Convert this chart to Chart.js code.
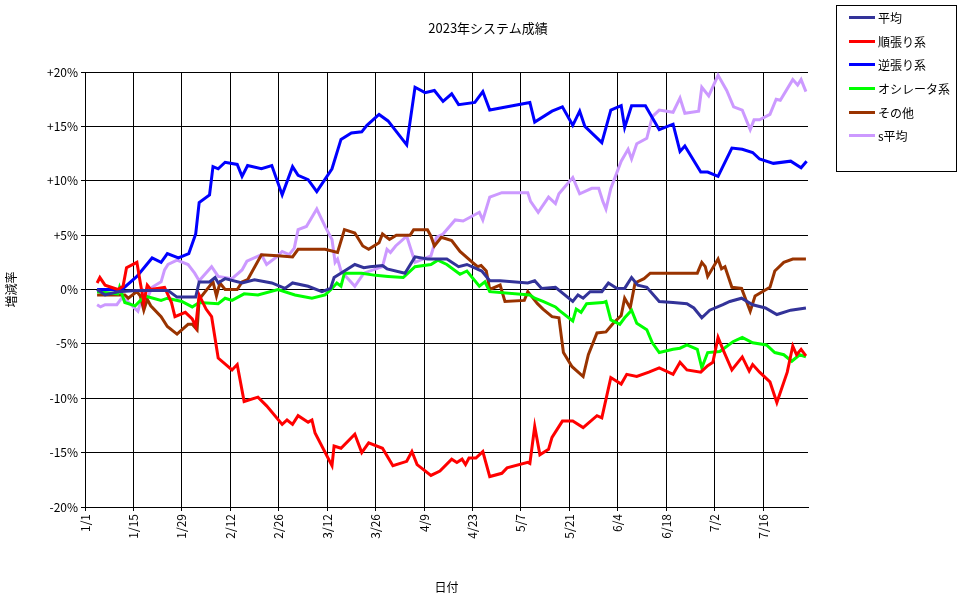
<!DOCTYPE html>
<html><head><meta charset="utf-8">
<script src="https://cdn.jsdelivr.net/npm/chart.js@4/dist/chart.umd.min.js"></script>
<style>
body{margin:0;background:#fff;font-family:"Noto Sans CJK JP",sans-serif;}
#wrap{position:relative;width:976px;height:599px;}
#title{position:absolute;left:0;width:976px;top:18px;text-align:center;font-size:13px;}
#legend{position:absolute;left:836px;top:5px;width:121px;height:167px;border:1px solid #000;box-sizing:border-box;font-size:12px;}
#legend div{height:23.6px;display:flex;align-items:center;margin-left:12px;}
#legend span.l{display:inline-block;width:26px;height:3px;margin-right:3px;}
</style></head><body>
<div id="wrap"><canvas id="c" width="976" height="599"></canvas>
<div id="title">2023年システム成績</div>
<div id="legend"></div></div>
<script>
// day index (0 = 1/1) and value in %
const heikin = [[3.5,0],[5.8,-0.5],[9.5,-0.2],[15,-0.1],[24,-0.1],[26.6,-0.7],[32,-0.7],[33,0.7],[36,0.7],[37.6,1.1],[38.5,0.6],[40.5,1.0],[45.4,0.6],[49,0.9],[54,0.6],[57.8,0.1],[60,0.6],[64.5,0.3],[68.5,-0.2],[71,0.1],[72,1.1],[75,1.7],[78,2.3],[80.6,2.0],[82.4,2.1],[86,2.2],[87.3,1.9],[92.5,1.5],[95.4,3.0],[99,2.8],[104.6,2.8],[108,2.1],[110.4,2.3],[114.7,1.7],[117,0.8],[120,0.8],[128,0.6],[130,0.8],[132,0.1],[136,0.2],[141,-1.1],[142.5,-0.5],[144,-0.8],[146,-0.2],[149.4,-0.2],[151.3,0.6],[153.8,0.1],[156,0.1],[158,1.1],[159.8,0.4],[162.4,0.2],[166,-1.1],[170,-1.2],[174,-1.3],[176,-1.7],[178.3,-2.6],[180.6,-1.9],[184.4,-1.4],[186.4,-1.1],[189.8,-0.8],[193,-1.4],[196.7,-1.7],[200,-2.3],[204,-1.9],[208.4,-1.7]];
const junbari = [[3.5,0.6],[4.3,1.1],[5.8,0.4],[9.5,0],[11,0.3],[12,2.0],[15,2.5],[16,0.6],[17,-1.2],[18,0.4],[19,0],[23,0.2],[25,-1.2],[26,-2.5],[29,-2.1],[31,-2.7],[32,-3.4],[33,-0.5],[35,-1.8],[36.6,-2.5],[38.5,-6.3],[42.5,-7.4],[44,-6.9],[46,-10.3],[50,-9.9],[52.5,-10.7],[57,-12.4],[58.4,-12.0],[60,-12.4],[61.6,-11.6],[64.5,-12.2],[65.6,-12.0],[66.5,-13.2],[71.4,-16.2],[72,-14.4],[74,-14.6],[78,-13.3],[80,-15.0],[82,-14.1],[86,-14.6],[89,-16.2],[93,-15.8],[94.5,-14.9],[96,-16.1],[100,-17.1],[102.6,-16.7],[106,-15.6],[107.5,-15.9],[109,-15.6],[110,-16.1],[111,-15.5],[113,-15.5],[115,-14.9],[117,-17.2],[120.5,-16.9],[122,-16.4],[128,-15.9],[128.6,-16.0],[130,-12.6],[131.5,-15.2],[134,-14.7],[135,-13.6],[138,-12.1],[141,-12.1],[144,-12.7],[148,-11.6],[149.4,-11.8],[152,-8.1],[155,-8.7],[156.6,-7.8],[159.5,-8.0],[163,-7.6],[166,-7.2],[170,-7.8],[172,-6.7],[174,-7.4],[178,-7.6],[180,-7.0],[181.5,-6.7],[183,-4.4],[184.4,-5.5],[187,-7.4],[190,-6.2],[192,-7.5],[193,-6.9],[195,-7.6],[198,-8.5],[200,-10.4],[203,-7.6],[204.6,-5.2],[205.7,-6.0],[207,-5.5],[208.4,-6.1]];
const gyakubari = [[3.5,0],[10.7,0],[15,1.2],[19.4,2.9],[22,2.5],[23.8,3.3],[27,2.9],[30,3.3],[32,5.1],[33,8.0],[36,8.7],[37,11.3],[38.5,11.1],[40.5,11.7],[44,11.5],[45.4,10.4],[47,11.4],[51,11.1],[54,11.4],[57,8.7],[60,11.3],[61.6,10.5],[64.5,10.1],[67,9.0],[71.4,11.1],[74,13.8],[77,14.4],[80,14.5],[81.5,15.1],[85,16.1],[87.6,15.5],[93,13.3],[95.4,18.6],[98.3,18.1],[101,18.3],[103.5,17.3],[106,18.0],[108,17.0],[112.7,17.2],[115,18.2],[117,16.5],[128.6,17.2],[130,15.4],[135,16.4],[138,16.8],[141,15.1],[143,16.4],[144.5,15.0],[149.4,13.5],[152,16.5],[155,16.9],[156,14.9],[158,16.9],[162,16.9],[166,14.7],[170,15.2],[172,12.7],[173.4,13.2],[178,10.8],[180,10.8],[183,10.4],[187,13.0],[190,12.9],[193,12.6],[195,12.0],[199,11.6],[204,11.8],[207,11.2],[208.6,11.8]];
const oscillator = [[3.5,-0.2],[9.5,-0.4],[10,0.2],[11.5,-1.2],[14.5,-1.5],[17.3,-0.6],[22,-1.0],[23.8,-0.8],[28,-1.1],[31,-1.6],[33,-1.2],[38.5,-1.3],[40.5,-0.8],[42.5,-1.0],[46,-0.4],[50,-0.5],[55.8,0],[60.7,-0.5],[65.6,-0.8],[69.4,-0.5],[71.4,0.1],[72.8,0.6],[74,0.3],[75,1.5],[80,1.5],[84,1.3],[87.6,1.2],[92,1.1],[95.4,2.1],[100,2.3],[102,2.7],[104.6,2.3],[108.4,1.4],[110.4,1.7],[114,0.3],[115.6,0.7],[117,-0.2],[128.6,-0.5],[130,-0.8],[132.4,-1.1],[136,-1.6],[137,-1.9],[141,-2.9],[142,-1.8],[143.4,-2.1],[145,-1.3],[149.7,-1.2],[150.6,-1.1],[152,-2.8],[154.6,-3.2],[156,-2.6],[158,-1.9],[159.5,-3.1],[162.4,-3.7],[164,-4.9],[166,-5.8],[170,-5.5],[172,-5.4],[174,-5.1],[177,-5.5],[178.3,-7.2],[180,-5.8],[183.5,-5.7],[187.3,-4.8],[190,-4.4],[193,-4.9],[197,-5.1],[199.4,-5.8],[202,-6.0],[204.3,-6.6],[206.6,-6.0],[208.4,-6.2]];
const sonota = [[3.5,-0.5],[11.5,-0.5],[12.5,-0.8],[15,-0.2],[16,-0.6],[17,-1.9],[18,-0.9],[19,-1.5],[22,-2.5],[23.8,-3.4],[26.6,-4.1],[29.8,-3.2],[31,-3.2],[32.4,-3.7],[33,-0.9],[37,0.7],[38,-0.6],[39,0.6],[40.5,0],[44,0],[45.4,0.7],[47,0.9],[51,3.2],[55.8,3.1],[60,3.0],[61.6,3.7],[69.4,3.7],[73,3.4],[75,5.5],[78,5.2],[80.3,4.0],[82,3.7],[85,4.3],[86,5.1],[88,4.6],[90,5.0],[94,5.0],[95,5.5],[99,5.5],[100,4.9],[101,4.0],[103,4.8],[106,4.5],[108.4,3.5],[112,2.5],[113.5,2.1],[114.5,2.2],[116,1.7],[117,0],[120,0.4],[121.4,-1.1],[127,-1.0],[128,-0.2],[130.8,-1.3],[132.4,-1.8],[135,-2.5],[137,-2.6],[138.3,-5.8],[140.8,-7.1],[144,-8.0],[145.5,-6.0],[148,-4.0],[150.6,-3.9],[152.7,-3.1],[155,-2.4],[156,-0.8],[157.6,-1.7],[159,0.6],[161.6,1.0],[163.4,1.5],[177,1.5],[178.3,2.5],[179.3,2.1],[180,1.2],[183,2.8],[184,1.9],[185,2.1],[187,0.2],[189.8,0.1],[192.3,-2.0],[193.7,-0.6],[198,0.2],[199.4,1.7],[202,2.5],[204.6,2.8],[208.4,2.8]];
const sHeikin = [[3.5,-1.4],[4.5,-1.6],[5.8,-1.4],[9.2,-1.4],[10.6,-0.8],[12,-1.0],[15.3,-2.0],[17,-0.2],[18,-0.8],[19.4,0.2],[22,0.7],[23,1.8],[24,2.3],[26.6,2.7],[29.8,2.3],[31.7,1.5],[33,0.8],[36.6,2.1],[38.5,1.2],[42.5,1.0],[45.4,1.8],[46.8,2.6],[51,3.2],[52.5,2.3],[55.4,3.0],[57,3.5],[59,3.2],[60.5,3.8],[61.6,5.5],[64,5.8],[67,7.4],[69.4,5.8],[71.4,4.6],[72.3,2.5],[73,2.8],[74,1.7],[78,0.3],[80.6,1.5],[86,2.1],[87.3,3.7],[88.3,3.4],[89.8,4.0],[93,4.9],[95.4,2.5],[100,3.1],[101.6,4.8],[103.5,5.1],[107,6.4],[109.3,6.3],[114,7.1],[115,6.4],[117,8.5],[120.5,8.9],[128,8.9],[128.8,8.1],[131,7.1],[134,8.5],[136,7.9],[137,8.8],[141,10.3],[143,8.8],[146.5,9.3],[148.5,9.3],[149.7,8.1],[150.6,7.4],[152,9.3],[155,11.8],[157,12.9],[158,12.0],[159.5,13.4],[162.4,13.9],[164,15.9],[166,16.5],[170,16.3],[172,17.6],[173.4,16.2],[177.4,16.4],[178.3,18.6],[180.3,17.8],[183,19.7],[185.5,18.3],[187.5,16.8],[190,16.5],[192.3,14.7],[193.4,15.6],[195,15.6],[198,16.1],[199.8,17.5],[201,17.4],[204.6,19.3],[206,18.8],[207,19.3],[208.4,18.2]];
const seriesNames = ["平均","順張り系","逆張り系","オシレータ系","その他","s平均"];
const seriesColors = ["#333399","#ff0000","#0000ff","#00ff00","#993300","#cc99ff"];
const seriesData = [heikin,junbari,gyakubari,oscillator,sonota,sHeikin];
const yTicks = [-20,-15,-10,-5,0,5,10,15,20];
const monthDays=[31,28,31,30,31,30,31];
function dayLabel(d){let m=0;while(d>=monthDays[m]){d-=monthDays[m];m++;}return (m+1)+"/"+(d+1);}
const font={family:"'Noto Sans CJK JP',sans-serif",size:12};
new Chart(document.getElementById('c'),{
 type:'line',
 data:{datasets:seriesData.map((s,i)=>({label:seriesNames[i],data:s.map(p=>({x:p[0],y:p[1]})),borderColor:seriesColors[i],borderWidth:3,pointRadius:0,tension:0,fill:false}))},
 options:{responsive:false,animation:false,
  layout:{padding:{top:72,right:168,left:0,bottom:0}},
  plugins:{legend:{display:false},tooltip:{enabled:false}},
  scales:{
   x:{type:'linear',min:0,max:209,
     afterFit(a){a.height=92;},
     afterBuildTicks(a){a.ticks=[];for(let d=0;d<=196;d+=14)a.ticks.push({value:d});},
     ticks:{color:'#000',font,maxRotation:90,minRotation:90,autoSkip:false,callback:v=>dayLabel(v)},
     grid:{color:'#000',lineWidth:1,drawTicks:true,tickLength:4},border:{color:'#000'},
     title:{display:true,text:'日付',color:'#000',font,padding:{top:22}}},
   y:{min:-20,max:20,
     afterFit(a){a.width=85;},
     afterBuildTicks(a){a.ticks=yTicks.map(v=>({value:v}));},
     ticks:{color:'#000',font,callback:v=>(v>0?'+':'')+v+'%'},
     grid:{color:'#000',lineWidth:1,tickLength:4},border:{color:'#000'},
     title:{display:true,text:'増減率',color:'#000',font}}
  }}
});
const lg=document.getElementById('legend');
seriesNames.forEach((n,i)=>{const d=document.createElement('div');d.innerHTML='<span class="l" style="background:'+seriesColors[i]+'"></span>'+n;lg.appendChild(d);});
</script></body></html>
